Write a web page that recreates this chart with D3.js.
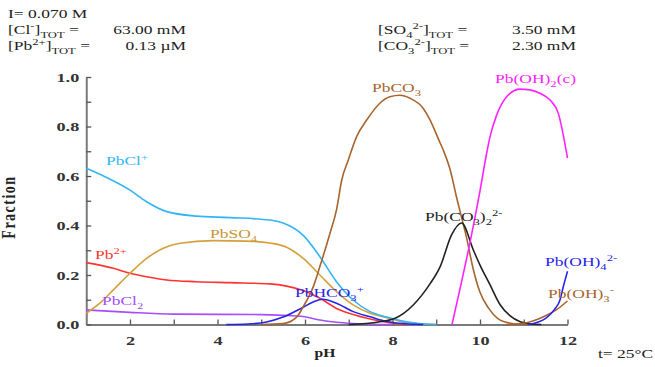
<!DOCTYPE html>
<html>
<head>
<meta charset="utf-8">
<script src="https://cdn.jsdelivr.net/npm/d3@7"></script>
<style>
  body { margin: 0; background: #fff; }
  svg { display: block; }
</style>
</head>
<body>
<svg id="chart"></svg>
<script>
// Fraction of total Pb(II) vs pH
const pbClPlus = [[1,0.631],[1.43,0.597],[2.0,0.543],[2.38,0.496],[2.84,0.456],[3.52,0.438],[4.29,0.432],[5.2,0.422],[5.5,0.41],[5.96,0.36],[6.34,0.274],[6.72,0.173],[7.1,0.099],[7.49,0.052],[7.87,0.03],[8.2,0.015],[8.6,0.004],[9.0,0]];
const pbSO4 = [[1,0.045],[1.31,0.086],[1.62,0.14],[2.0,0.207],[2.38,0.267],[2.76,0.308],[3.14,0.328],[3.9,0.339],[4.67,0.337],[5.2,0.329],[5.58,0.312],[5.96,0.267],[6.34,0.2],[6.72,0.133],[7.1,0.079],[7.49,0.045],[7.87,0.027],[8.2,0.012],[8.6,0.003],[9.0,0]];
const pb2Plus = [[1,0.25],[1.62,0.227],[2.0,0.207],[2.38,0.193],[2.84,0.18],[3.52,0.173],[4.29,0.169],[5.2,0.164],[5.58,0.155],[5.96,0.137],[6.34,0.106],[6.72,0.065],[7.1,0.04],[7.49,0.022],[7.9,0.008],[8.3,0]];
const pbCl2 = [[1,0.059],[2,0.049],[3,0.042],[4,0.041],[5,0.04],[5.5,0.037],[5.96,0.032],[6.34,0.018],[6.72,0.009],[7.1,0.004],[7.5,0.001],[8,0]];
const pbHCO3Plus = [[4.2,0],[4.7,0.002],[5.12,0.01],[5.5,0.03],[5.96,0.07],[6.2,0.092],[6.4,0.102],[6.72,0.086],[7.1,0.052],[7.49,0.031],[7.87,0.012],[8.3,0.003],[8.7,0]];
const pbCO3 = [[5.0,0],[5.5,0.004],[5.81,0.03],[5.96,0.072],[6.19,0.153],[6.34,0.234],[6.57,0.368],[6.72,0.463],[6.84,0.584],[6.99,0.665],[7.18,0.759],[7.41,0.826],[7.71,0.894],[7.94,0.92],[8.17,0.926],[8.4,0.914],[8.7,0.874],[8.86,0.826],[9.06,0.745],[9.16,0.705],[9.31,0.63],[9.47,0.51],[9.7,0.345],[9.85,0.22],[10.0,0.13],[10.2,0.065],[10.4,0.025],[10.7,0.005],[11.0,0]];
const pbCO3x2 = [[7.0,0],[7.4,0.004],[7.71,0.011],[8.06,0.025],[8.48,0.08],[8.86,0.165],[9.09,0.234],[9.35,0.362],[9.58,0.41],[9.85,0.3],[10.0,0.24],[10.23,0.16],[10.46,0.08],[10.69,0.035],[10.92,0.011],[11.15,0.002],[11.4,0]];
const pbOH2c = [[9.36,0],[9.55,0.15],[9.77,0.33],[10.0,0.54],[10.15,0.69],[10.23,0.759],[10.38,0.846],[10.61,0.92],[10.91,0.951],[11.14,0.948],[11.37,0.934],[11.6,0.907],[11.79,0.853],[12.0,0.672]];
const pbOH3Minus = [[10.6,0],[11.0,0.005],[11.5,0.035],[11.75,0.06],[12.0,0.095]];
const pbOH4 = [[11.1,0],[11.5,0.025],[11.7,0.06],[11.83,0.1],[11.9,0.15],[12.0,0.215]];

const xTicks = [2,3,4,5,6,7,8,9,10,11,12];
const yTicks = [0,0.1,0.2,0.3,0.4,0.5,0.6,0.7,0.8,0.9,1.0];

const series = [
  { data: pbCl2, color: "#a64dff" },
  { data: pb2Plus, color: "#ff3333" },
  { data: pbSO4, color: "#d4a03c" },
  { data: pbClPlus, color: "#33b5f5" },
  { data: pbHCO3Plus, color: "#2424e8" },
  { data: pbCO3, color: "#a8642e" },
  { data: pbCO3x2, color: "#222222" },
  { data: pbOH2c, color: "#ff22ff" },
  { data: pbOH3Minus, color: "#a8642e" },
  { data: pbOH4, color: "#2424e8" }
];

const speciesLabels = [
  { text: "PbCl^{+}", x: 106, y: 165, color: "#33b5f5" },
  { text: "PbSO_{4}", x: 210, y: 238, color: "#c89530" },
  { text: "Pb^{2+}", x: 95, y: 259, color: "#ff3333" },
  { text: "PbCl_{2}", x: 102, y: 305, color: "#a64dff" },
  { text: "PbHCO_{3}^{+}", x: 295, y: 297, color: "#2424e8" },
  { text: "PbCO_{3}", x: 372, y: 92, color: "#a8642e" },
  { text: "Pb(OH)_{2}(c)", x: 495, y: 83, color: "#ff22ff" },
  { text: "Pb(CO_{3})_{2}^{2-}", x: 425, y: 221, color: "#222222" },
  { text: "Pb(OH)_{4}^{2-}", x: 545, y: 266, color: "#2424e8" },
  { text: "Pb(OH)_{3}^{-}", x: 548, y: 298, color: "#a8642e" }
];

const FONT = "'Liberation Serif', 'Times New Roman', serif";
const SX = 1.4; // the reference is stretched sideways
const width = 655, height = 367;

const svg = d3.select("#chart").attr("width", width).attr("height", height);

const x = d3.scaleLinear().domain([1, 12]).range([86.25, 567.5]);
const y = d3.scaleLinear().domain([0, 1]).range([324.5, 77]);

// split "Pb(CO_{3})_{2}^{2-}" into normal / sub / sup pieces
function parseChem(s) {
  const out = [];
  let buf = "";
  for (let i = 0; i < s.length; i++) {
    const c = s[i];
    if ((c === "_" || c === "^") && s[i + 1] === "{") {
      if (buf) out.push({ text: buf, mode: null });
      buf = "";
      const end = s.indexOf("}", i);
      out.push({ text: s.slice(i + 2, end), mode: c === "_" ? "sub" : "sup" });
      i = end;
    } else {
      buf += c;
    }
  }
  if (buf) out.push({ text: buf, mode: null });
  return out;
}

function richText(parent, px, py, markup, opts = {}) {
  const size = opts.size || 13;
  const t = parent.append("text")
    .attr("transform", `translate(${px},${py}) scale(${opts.sx || SX},1)` + (opts.rotate ? ` rotate(${opts.rotate})` : ""))
    .attr("font-family", FONT)
    .attr("font-size", size)
    .attr("font-weight", opts.weight || "normal")
    .attr("fill", opts.color || "#222")
    .attr("text-anchor", opts.anchor || "start");
  let cur = 0;
  parseChem(markup).forEach(seg => {
    const off = seg.mode === "sub" ? size * 0.3 : seg.mode === "sup" ? -size * 0.38 : 0;
    t.append("tspan")
      .attr("dy", off - cur)
      .attr("font-size", seg.mode ? size * 0.72 : size)
      .text(seg.text);
    cur = off;
  });
  return t;
}

// Axes, ticks pointing inside
const xAxis = d3.axisBottom(x)
  .tickValues(xTicks)
  .tickSizeInner(-5)
  .tickSizeOuter(0)
  .tickPadding(11)
  .tickFormat(d => (d % 2 === 0 ? d : ""));

const yAxis = d3.axisLeft(y)
  .tickValues(yTicks)
  .tickSizeInner(-5)
  .tickSizeOuter(0)
  .tickPadding(7)
  .tickFormat(d => (Math.round(d * 10) % 2 === 0 ? d3.format(".1f")(d) : ""));

function styleAxis(g) {
  g.select(".domain").attr("stroke", "#7a7a7a").attr("stroke-width", 2);
  g.selectAll(".tick line").attr("stroke", "#555").attr("stroke-width", 1.3);
  g.selectAll(".tick text")
    .attr("font-family", FONT)
    .attr("font-size", 13)
    .attr("font-weight", "bold")
    .attr("fill", "#333");
}

const gx = svg.append("g")
  .attr("transform", `translate(0,${y(0)})`)
  .call(xAxis)
  .call(styleAxis);

const gy = svg.append("g")
  .attr("transform", `translate(${x(1)},0)`)
  .call(yAxis)
  .call(styleAxis);

// stretch tick labels sideways like the reference
gx.selectAll(".tick text").each(function () {
  const t = d3.select(this);
  t.attr("transform", `scale(${SX},1)`).attr("x", 0);
});
gy.selectAll(".tick text").each(function () {
  const t = d3.select(this);
  t.attr("transform", `translate(-7,0) scale(${SX},1)`).attr("x", 0);
});

// Curves
const line = d3.line()
  .x(d => x(d[0]))
  .y(d => y(d[1]))
  .curve(d3.curveMonotoneX);

svg.append("g")
  .selectAll("path")
  .data(series)
  .enter()
  .append("path")
  .attr("d", d => line(d.data))
  .attr("fill", "none")
  .attr("stroke", d => d.color)
  .attr("stroke-width", 1.6);

// Species labels
speciesLabels.forEach(l => richText(svg, l.x, l.y, l.text, { color: l.color, size: 12.5 }));

// Header
richText(svg, 8, 18, "I= 0.070 M", { size: 12.5 });
richText(svg, 8, 34, "[Cl^{-}]_{TOT} =", { size: 12.5 });
richText(svg, 186, 34, "63.00 mM", { size: 12.5, anchor: "end" });
richText(svg, 8, 50, "[Pb^{2+}]_{TOT} =", { size: 12.5 });
richText(svg, 186, 50, "0.13 µM", { size: 12.5, anchor: "end" });
richText(svg, 378, 34, "[SO_{4}^{2-}]_{TOT} =", { size: 12.5 });
richText(svg, 576, 34, "3.50 mM", { size: 12.5, anchor: "end" });
richText(svg, 378, 50, "[CO_{3}^{2-}]_{TOT} =", { size: 12.5 });
richText(svg, 576, 50, "2.30 mM", { size: 12.5, anchor: "end" });

// Axis titles and temperature
richText(svg, 325, 357, "pH", { size: 13, weight: "bold", anchor: "middle", sx: 1.2 });
richText(svg, 15, 207, "Fraction", { size: 14, weight: "bold", anchor: "middle", rotate: -90, sx: 1.3 })
  .attr("letter-spacing", 1.5);
richText(svg, 598, 358, "t= 25°C", { size: 12.5 });
</script>
</body>
</html>
